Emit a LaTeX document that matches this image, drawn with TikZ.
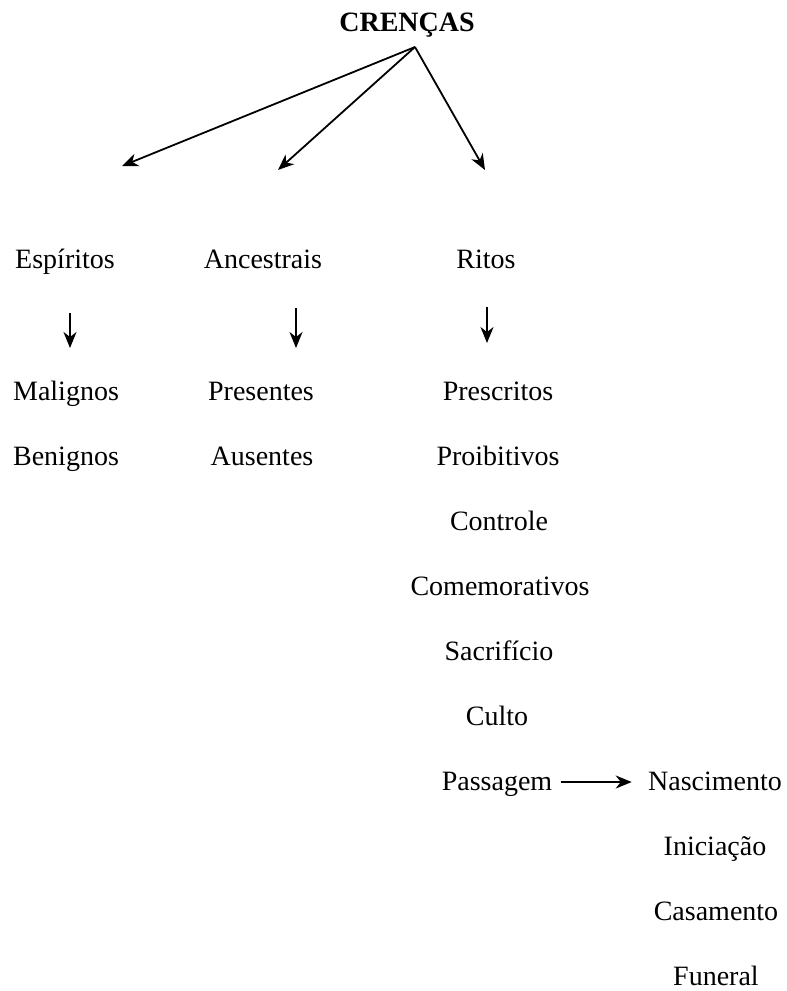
\documentclass[tikz,border=0pt]{standalone}
\usepackage{fontspec}
\setmainfont{Liberation Serif}
\usetikzlibrary{arrows.meta}
\begin{document}
\begin{tikzpicture}[x=0.5pt,y=-0.5pt,
  lbl/.style={anchor=base,inner sep=0pt,font=\fontsize{14}{16}\selectfont},
  arr/.style={line width=0.9pt,-{Stealth[length=8pt,width=6.5pt,inset=2.5pt]}}]
\useasboundingbox (0,0) rectangle (787,991);
\node[lbl,font=\fontsize{14}{16}\selectfont\bfseries] (cr) at (407,31) {CRENÇAS};
\node[lbl] (esp) at (65,268) {Espíritos};
\node[lbl] (anc) at (263,268) {Ancestrais};
\node[lbl] (rit) at (486,268) {Ritos};
\node[lbl] (mal) at (66,400) {Malignos};
\node[lbl] (ben) at (66,465) {Benignos};
\node[lbl] (pre) at (261,400) {Presentes};
\node[lbl] (aus) at (262,465) {Ausentes};
\node[lbl] (psc) at (498,400) {Prescritos};
\node[lbl] (pro) at (498,465) {Proibitivos};
\node[lbl] (con) at (499,530) {Controle};
\node[lbl] (com) at (500,595) {Comemorativos};
\node[lbl] (sac) at (499,660) {Sacrifício};
\node[lbl] (cul) at (497,725) {Culto};
\node[lbl] (pas) at (497,790) {Passagem};
\node[lbl] (nas) at (715,790) {Nascimento};
\node[lbl] (ini) at (715,855) {Iniciação};
\node[lbl] (cas) at (716,920) {Casamento};
\node[lbl] (fun) at (716,985) {Funeral};
\coordinate (o) at (415,47);
\coordinate (t1) at (122,166);
\coordinate (t2) at (278,170);
\coordinate (t3) at (485,170);
\draw[arr] (o) -- (t1);
\draw[arr] (o) -- (t2);
\draw[arr] (o) -- (t3);
\coordinate (e1) at (70,313); \coordinate (e2) at (70,348);
\coordinate (a1) at (296,308); \coordinate (a2) at (296,348);
\coordinate (r1) at (487,307); \coordinate (r2) at (487,343);
\draw[arr] (e1) -- (e2);
\draw[arr] (a1) -- (a2);
\draw[arr] (r1) -- (r2);
\draw[arr,shorten <=4pt,shorten >=8pt] (pas.east|-0,782) -- (nas.west|-0,782);
\end{tikzpicture}
\end{document}
